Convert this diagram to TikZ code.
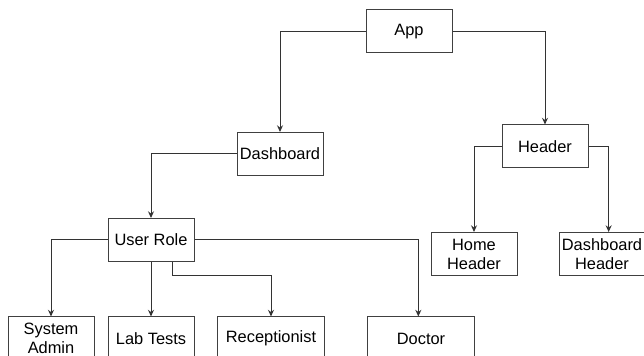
\documentclass[tikz,border=0pt]{standalone}
\usepackage{fontspec}
\setmainfont{Liberation Sans}
\usetikzlibrary{arrows.meta}

\begin{document}
\begin{tikzpicture}[x=0.75pt, y=-0.75pt, line width=0.75pt,
    box/.style={draw=black!75, fill=white, align=center, inner sep=0pt,
      minimum width=64.5pt, minimum height=32.25pt,
      font=\fontsize{12.3pt}{14.2pt}\selectfont},
    widebox/.style={box, minimum width=80pt},
    link/.style={draw=black!80, -{Stealth[length=5pt, width=4.5pt]}}]

    % 画面の大きさ
    \useasboundingbox (0,0) rectangle (644,356);

    % 箱の配置
    \node[box] (app) at (409,31.5) {App};
    \node[box] (dash) at (280,154) {Dashboard};
    \node[box] (head) at (545,146.5) {Header};
    \node[box] (home) at (474,254) {Home\\Header};
    \node[box] (dhead) at (602,254) {Dashboard\\Header};
    \node[box] (role) at (151,240) {User Role};
    \node[box] (admin) at (51,338.5) {System\\Admin};
    \node[box] (lab) at (151,338.5) {Lab Tests};
    \node[widebox] (recep) at (271,338.5) {Receptionist};
    \node[widebox] (doc) at (421,338.5) {Doctor};

    % 矢印
    \draw[link] (app.west) -| (dash.north);
    \draw[link] (app.east) -| (head.north);
    \draw[link] (dash.west) -| (role.north);
    \draw[link] (head.west) -| (home.north);
    \draw[link] (head.east) -| ([xshift=5pt]dhead.north);
    \draw[link] (role.west) -| (admin.north);
    \draw[link] (role.south) -- (lab.north);
    \draw[link] ([xshift=16pt]role.south) -- ++(0,13.5) -| (recep.north);
    \draw[link] (role.east) -| ([xshift=-2pt]doc.north);

\end{tikzpicture}
\end{document}
